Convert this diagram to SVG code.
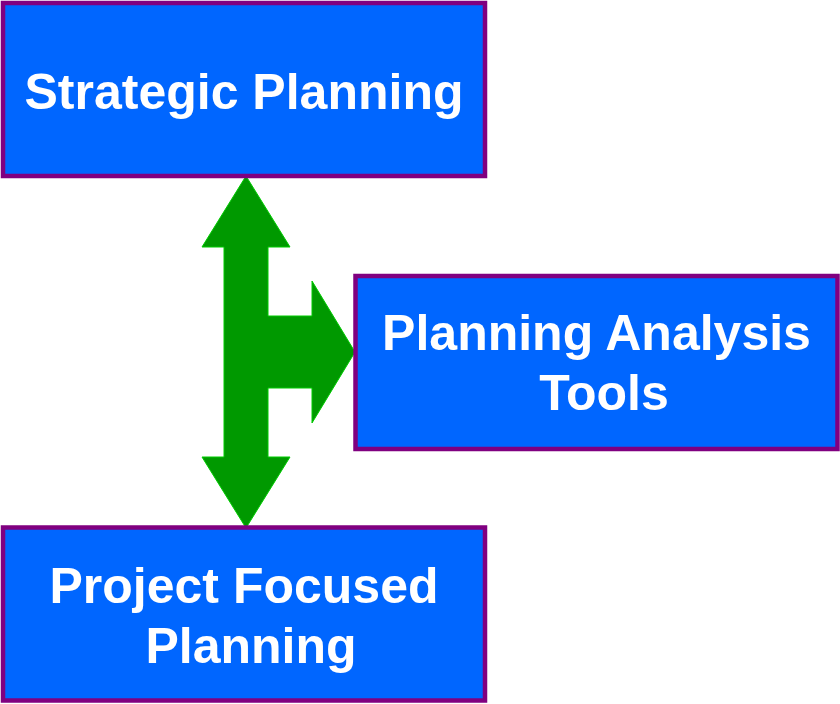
<svg xmlns="http://www.w3.org/2000/svg" width="840" height="704" viewBox="0 0 840 704">
<style>
.box{fill:#0066FF;stroke:#800080;stroke-width:4.5}
.lbl{font-family:"Liberation Sans",Arial,sans-serif;font-weight:bold;font-size:50px;fill:#FFFFFF;text-anchor:middle}
.arrow{fill:#009900;stroke:#00CC00;stroke-width:1}
</style>
<rect width="840" height="704" fill="#FFFFFF"/>
<g id="connectors">
<polygon class="arrow" points="246,176 290,247 268,247 268,316 312,316 312,281 355,352 312,423 312,388 268,388 268,457 290,457 246,528 202,457 224,457 224,247 202,247"/>
</g>
<g id="strategic">
<rect class="box" x="3" y="3" width="482" height="173"/>
<text class="lbl" x="244" y="109">Strategic Planning</text>
</g>
<g id="analysis">
<rect class="box" x="355.5" y="276" width="482" height="173"/>
<text class="lbl" x="596.5" y="350">Planning Analysis</text>
<text class="lbl" x="604" y="410">Tools</text>
</g>
<g id="project">
<rect class="box" x="3" y="527.5" width="482" height="173"/>
<text class="lbl" x="244" y="603">Project Focused</text>
<text class="lbl" x="251" y="663">Planning</text>
</g>
</svg>
